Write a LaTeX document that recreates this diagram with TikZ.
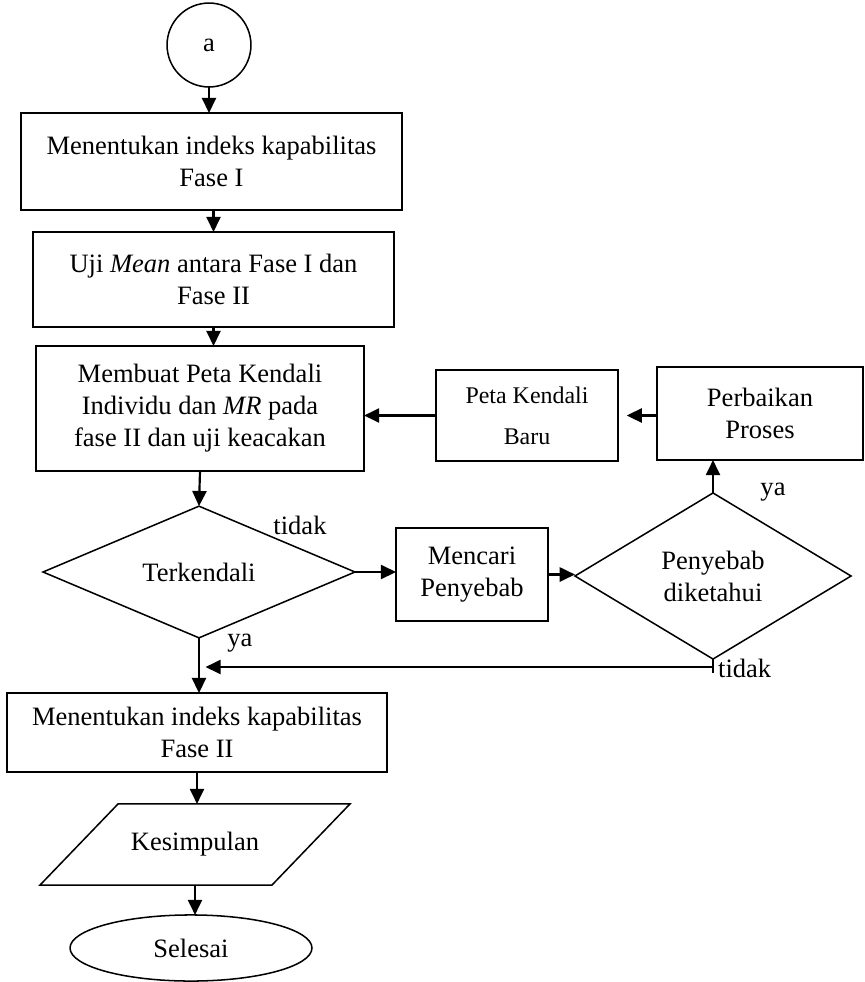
\documentclass[tikz,border=0pt]{standalone}
\usepackage{fontspec}
\setmainfont{Liberation Serif}
\usetikzlibrary{positioning}
\usetikzlibrary{arrows.meta}
\usetikzlibrary{shapes.geometric}
\usetikzlibrary{calc}

\begin{document}
\begin{tikzpicture}[x=0.46pt, y=-0.46pt,
    %Option for nice arrows
    >={Triangle[length=7pt,width=6.5pt]}, %
    inner sep=0pt, outer sep=0pt,%
    every node/.style={font=\fontsize{12.2}{14.7}\selectfont},
    arr/.style={line width=1pt,->},
    line/.style={line width=1pt},
    proc/.style={draw, line width=0.7pt, align=center},
    decision/.style={draw, line width=0.7pt, diamond, align=center},
    lbl/.style={inner sep=1pt},
]
    \useasboundingbox (0,0) rectangle (865,982);

    % Main column
    \node[proc, circle, minimum size=38.6pt] (a) at (209, 45) {a};
    \node[proc, minimum width=175.3pt, minimum height=44.6pt] (fase1) at (211.5, 161.5)
        {Menentukan indeks kapabilitas\\Fase I};
    \node[proc, minimum width=166.1pt, minimum height=43.7pt] (uji) at (213.5, 279.5)
        {Uji \textit{Mean} antara Fase I dan\\Fase II};
    \node[proc, minimum width=150.9pt, minimum height=57.5pt] (peta) at (200, 408.5)
        {Membuat Peta Kendali\\Individu dan \textit{MR} pada\\fase II dan uji keacakan};
    \node[decision, minimum width=143.5pt, minimum height=50.6pt] (terk) at (199, 572)
        {Terkendali};
    \node[proc, minimum width=174.8pt, minimum height=36.3pt] (fase2) at (197, 732.5)
        {Menentukan indeks kapabilitas\\Fase II};
    % Parallelogram: body node, sides drawn by hand
    \node[minimum width=106.7pt, minimum height=37.3pt] (kesimp) at (195, 844.5) {Kesimpulan};
    \draw[line width=0.7pt] ($(kesimp.north west)+(39,0)$) -- ($(kesimp.north east)+(39,0)$)
        -- ($(kesimp.south east)+(-39,0)$) -- ($(kesimp.south west)+(-39,0)$) -- cycle;
    \node[proc, ellipse, minimum width=111.3pt, minimum height=30.4pt] (selesai) at (191, 948)
        {Selesai};

    % Loop on the right
    \node[proc, minimum width=69.9pt, minimum height=42.8pt] (mencari) at (472, 574.5)
        {Mencari\\Penyebab};
    \node[decision, minimum width=127pt, minimum height=76.4pt] (diket) at (713, 576)
        {Penyebab\\diketahui};
    \node[proc, minimum width=94.8pt, minimum height=42.8pt] (perbaikan) at (760, 413.5)
        {Perbaikan\\Proses};
    \node[proc, minimum width=83.7pt, minimum height=41.9pt,
        font=\fontsize{11}{14}\selectfont] (baru) at (527, 415.5)
        {Peta Kendali\\[5pt]Baru};

    % Labels
    \node[lbl] (tidak1) at (300, 525) {tidak};
    \node[lbl] (ya1) at (240, 643) {ya};
    \node[lbl] (ya2) at (773, 492) {ya};
    \node[lbl, anchor=west] (tidak2) at (716, 668) {tidak};

    % Connectors
    \draw[arr] (a.south) -- (a.south |- fase1.north);
    \draw[arr] (uji.north |- fase1.south) -- (uji.north);
    \draw[arr] (uji.south) -- (uji.south |- peta.north);
    \draw[arr] (peta.south) -- (terk.north);
    \draw[arr] (terk.east) -- (terk.east -| mencari.west);
    \draw[arr] (mencari.east) -- (mencari.east -| diket.west);
    \draw[arr] (diket.north) -- (diket.north |- perbaikan.south);
    \draw[arr, shorten >=4pt] (perbaikan.west |- baru.east) -- (baru.east);
    \draw[arr] (baru.west) -- (baru.west -| peta.east);
    \draw[arr] (terk.south) -- (terk.south |- fase2.north);
    \coordinate (turn) at (713, 667);
    \draw[line] (diket.south) -- ++(0, 14);
    \draw[arr, shorten >=3pt] (turn) -- (turn -| terk.south);
    \draw[arr] (fase2.south) -- (fase2.south |- kesimp.north);
    \draw[arr] (kesimp.south) -- (kesimp.south |- selesai.north);

\end{tikzpicture}
\end{document}
